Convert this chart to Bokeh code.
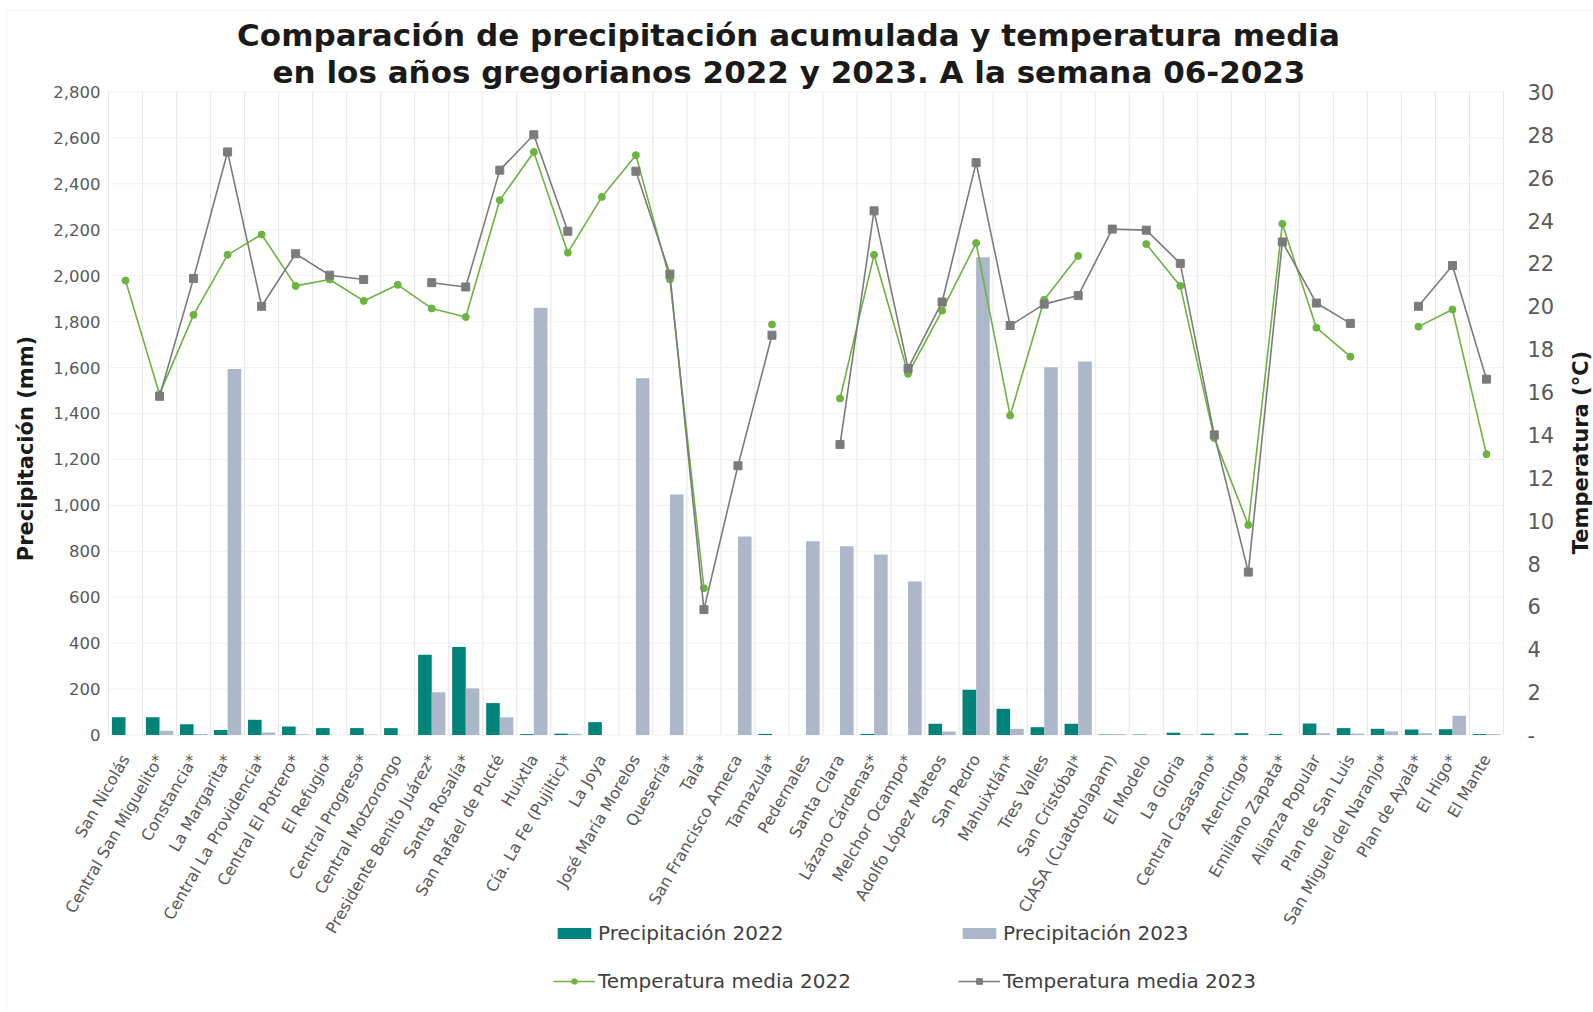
from math import pi
from bokeh.plotting import figure
from bokeh.models import (ColumnDataSource, Range1d, LinearAxis, FixedTicker,
                          CustomJSTickFormatter, NumeralTickFormatter, Legend,
                          LegendItem, Label, BoxAnnotation)
from bokeh.transform import dodge
from bokeh.embed import file_html
from bokeh.resources import INLINE

nan = float("nan")

categories = [
    "San Nicolás", "Central San Miguelito*", "Constancia*", "La Margarita*",
    "Central La Providencia*", "Central El Potrero*", "El Refugio*", "Central Progreso*",
    "Central Motzorongo", "Presidente Benito Juárez*", "Santa Rosalía*", "San Rafael de Pucté",
    "Huixtla", "Cía. La Fe (Pujiltic)*", "La Joya", "José María Morelos", "Quesería*", "Tala*",
    "San Francisco Ameca", "Tamazula*", "Pedernales", "Santa Clara", "Lázaro Cárdenas*",
    "Melchor Ocampo*", "Adolfo López Mateos", "San Pedro", "Mahuixtlán*", "Tres Valles",
    "San Cristóbal*", "CIASA (Cuatotolapam)", "El Modelo", "La Gloria", "Central Casasano*",
    "Atencingo*", "Emiliano Zapata*", "Alianza Popular", "Plan de San Luis",
    "San Miguel del Naranjo*", "Plan de Ayala*", "El Higo*", "El Mante",
]

precip_2022 = [77, 77, 47, 22, 66, 37, 30, 30, 30, 349, 383, 139, 4, 6, 56, 0, 0, 0, 0, 5,
               0, 0, 5, 0, 49, 197, 114, 34, 49, 2, 2, 10, 6, 8, 5, 50, 30, 27, 24, 25, 4]
precip_2023 = [0, 19, 4, 1593, 11, 3, 0, 2, 0, 186, 203, 77, 1860, 5, 0, 1553, 1047, 0, 864, 0,
               844, 822, 786, 668, 15, 2080, 27, 1601, 1626, 4, 1, 2, 1, 0, 0, 8, 6, 16, 8, 84, 4]
temp_2022 = [21.2, 15.9, 19.6, 22.4, 23.35, 20.95, 21.25, 20.25, 21.0, 19.9, 19.5, 24.95, 27.2,
             22.5, 25.1, 27.05, 21.25, 6.85, nan, 19.15, nan, 15.7, 22.4, 16.85, 19.8, 22.95,
             14.9, 20.3, 22.35, nan, 22.9, 20.95, 13.85, 9.8, 23.85, 19.0, 17.65, nan, 19.05,
             19.85, 13.1]
temp_2023 = [nan, 15.8, 21.3, 27.2, 20.0, 22.45, 21.45, 21.25, nan, 21.1, 20.9, 26.35, 28.0,
             23.5, nan, 26.3, 21.5, 5.85, 12.56, 18.65, nan, 13.55, 24.45, 17.1, 20.2, 26.7,
             19.1, 20.1, 20.5, 23.6, 23.55, 22.0, 14.0, 7.6, 23.0, 20.15, 19.2, nan, 20.0,
             21.9, 16.6]

precip_ticks = list(range(0, 2801, 200))
temp_ticks = list(range(0, 31, 2))
PRECIP_MAX = 2800
TEMP_MAX = 30

title_line1 = "Comparación de precipitación acumulada y temperatura media"
title_line2 = "en los años gregorianos 2022 y 2023. A la semana 06-2023"

# ---- layout constants (pixels) ----
W, H = 1593, 1010
PX_LEFT, PX_PLOT_RIGHT, PX_TOP, PX_ZERO = 108, 1503, 91.4, 734.5

TEAL = "#00837a"
BLUEGRAY = "#adb7ca"
GREEN = "#6db33f"
GRAY = "#7b7b7b"
FONT = "DejaVu Sans"
TICK_COLOR = "#595959"
TEXT_DARK = "#1a1a1a"

n = len(categories)
px_per_cat = (PX_PLOT_RIGHT - PX_LEFT) / n
px_per_mm = (PX_ZERO - PX_TOP) / PRECIP_MAX


def xd(px):
    return (px - PX_LEFT) / px_per_cat


def yd(py):
    return (PX_ZERO - py) / px_per_mm


def td(py):
    return yd(py) * TEMP_MAX / PRECIP_MAX


src = ColumnDataSource(dict(
    x=[i + 0.5 for i in range(n)], cat=categories,
    p22=precip_2022, p23=precip_2023, t22=temp_2022, t23=temp_2023,
))

p = figure(width=W, height=H, x_range=Range1d(xd(0), xd(W)), y_range=Range1d(yd(H), yd(0)),
           output_backend="svg", toolbar_location=None, x_axis_location=None,
           y_axis_location=None, min_border_left=0, min_border_right=0, min_border_top=0,
           min_border_bottom=0)
p.extra_y_ranges = {"temp": Range1d(td(H), td(0))}
p.outline_line_color = None
p.background_fill_color = "white"
p.grid.visible = False
p.title.text = ""
p.title.visible = False

# faint outer frame
p.add_layout(BoxAnnotation(left=xd(6), top=yd(9.5), right=xd(W + 20), bottom=yd(H + 20),
                           fill_alpha=0, line_color="#dedede", line_width=1.5))

# ---- titles ----
p.add_layout(Label(x=xd(788), y=yd(34), text=title_line1, text_align="center",
                   text_baseline="middle", text_font=FONT, text_font_size="31px",
                   text_font_style="bold", text_color=TEXT_DARK))
p.add_layout(Label(x=xd(788.5), y=yd(71), text=title_line2, text_align="center",
                   text_baseline="middle", text_font=FONT, text_font_size="31px",
                   text_font_style="bold", text_color=TEXT_DARK))

# ---- grid lines (category boundaries / precip ticks) ----
bounds = list(range(n + 1))
p.segment(x0=bounds, x1=bounds, y0=[0] * len(bounds), y1=[PRECIP_MAX] * len(bounds),
          line_color="#e6e6e6", line_width=1)
p.segment(x0=[0] * len(precip_ticks), x1=[n] * len(precip_ticks), y0=precip_ticks,
          y1=precip_ticks, line_color="#f1f1f1", line_width=1)

# ---- bars ----
b22 = p.vbar(x=dodge("x", -0.2, range=p.x_range), top="p22", width=0.4, source=src,
             fill_color=TEAL, line_color=None)
b23 = p.vbar(x=dodge("x", 0.2, range=p.x_range), top="p23", width=0.4, source=src,
             fill_color=BLUEGRAY, line_color=None)

# ---- lines ----
l22 = p.line("x", "t22", source=src, y_range_name="temp", color=GREEN, line_width=1.6)
s22 = p.scatter("x", "t22", source=src, y_range_name="temp", marker="circle", size=7,
                color=GREEN)
l23 = p.line("x", "t23", source=src, y_range_name="temp", color=GRAY, line_width=1.6)
s23 = p.scatter("x", "t23", source=src, y_range_name="temp", marker="square", size=8,
                color=GRAY)

# ---- axes ----
xa = LinearAxis(fixed_location=0, ticker=FixedTicker(ticks=list(src.data["x"])),
                formatter=CustomJSTickFormatter(args=dict(names=categories),
                                                code="return names[Math.round(tick - 0.5)];"))
xa.major_label_orientation = pi / 3
xa.major_label_standoff = 15
xa.major_label_text_font_size = "16px"
p.add_layout(xa, "below")

ya = LinearAxis(fixed_location=0, ticker=FixedTicker(ticks=precip_ticks),
                formatter=NumeralTickFormatter(format="0,0"))
ya.major_label_standoff = 2
ya.major_label_text_font_size = "16.5px"
p.add_layout(ya, "left")

ra = LinearAxis(y_range_name="temp", fixed_location=n, ticker=FixedTicker(ticks=temp_ticks),
                major_label_overrides={0: "-"})
ra.major_label_standoff = 18
ra.major_label_text_font_size = "21px"
p.add_layout(ra, "right")

for ax in [xa, ya, ra]:
    ax.axis_line_color = None
    ax.major_tick_line_color = None
    ax.minor_tick_line_color = None
    ax.major_label_text_font = FONT
    ax.major_label_text_color = TICK_COLOR

# axis titles
p.add_layout(Label(x=xd(25.4), y=yd(448), text="Precipitación (mm)", angle=pi / 2,
                   text_align="center", text_baseline="middle", text_font=FONT,
                   text_font_style="bold", text_font_size="21px", text_color=TEXT_DARK))
p.add_layout(Label(x=xd(1580), y=td(452), y_range_name="temp", text="Temperatura (°C)",
                   angle=pi / 2, text_align="center", text_baseline="middle", text_font=FONT,
                   text_font_style="bold", text_font_size="21px", text_color=TEXT_DARK))

# ---- legends ----
def mk_legend(label, renderers, loc):
    return Legend(items=[LegendItem(label=label, renderers=renderers)], location=loc,
                  orientation="vertical", padding=0, margin=0, border_line_color=None,
                  background_fill_alpha=0, glyph_width=42, glyph_height=14,
                  label_standoff=3, label_text_font=FONT, label_text_font_size="20px",
                  label_text_color="#404040")

p.add_layout(mk_legend("Precipitación 2022", [b22], (553, 65)), "center")
p.add_layout(mk_legend("Precipitación 2023", [b23], (958, 65)), "center")
p.add_layout(mk_legend("Temperatura media 2022", [l22, s22], (553, 17)), "center")
p.add_layout(mk_legend("Temperatura media 2023", [l23, s23], (958, 17)), "center")

open("out.html", "w").write(file_html(p, INLINE))
